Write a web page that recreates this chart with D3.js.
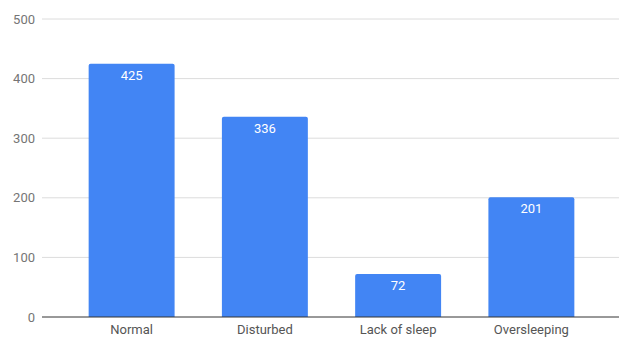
<!DOCTYPE html>
<html>
<head>
<meta charset="utf-8"/>
<script src="https://d3js.org/d3.v7.min.js"></script>
<style>
  body { margin: 0; background: #fff; }
  svg { display: block; font-family: Roboto, "Noto Sans", sans-serif; }
</style>
</head>
<body>
<div id="chart"></div>
<script>
// sleep categories and counts
var categories = ["Normal", "Disturbed", "Lack of sleep", "Oversleeping"];
var counts = [425, 336, 72, 201];
var yTicks = [0, 100, 200, 300, 400, 500];

var width = 619, height = 337;

var svg = d3.select("#chart").append("svg")
    .attr("width", width)
    .attr("height", height);

var x = d3.scaleBand()
    .domain(categories)
    .range([65, 598])
    .paddingInner(0.355)
    .paddingOuter(0.1775);

var y = d3.scaleLinear()
    .domain([0, 500])
    .range([317, 19]);

// gridlines + y labels
var grid = svg.append("g");
grid.selectAll("line")
    .data(yTicks.filter(function(d){ return d > 0; }))
    .enter().append("line")
    .attr("x1", 42).attr("x2", width)
    .attr("y1", function(d){ return y(d); })
    .attr("y2", function(d){ return y(d); })
    .attr("stroke", "#dcdcdc")
    .attr("stroke-width", 1);

grid.selectAll("text")
    .data(yTicks)
    .enter().append("text")
    .attr("x", 35)
    .attr("y", function(d){ return y(d); })
    .attr("dy", "0.35em")
    .attr("text-anchor", "end")
    .attr("font-size", 13)
    .attr("fill", "#757575")
    .text(function(d){ return d; });

// bars
var bars = svg.append("g");
bars.selectAll("path")
    .data(categories)
    .enter().append("path")
    .attr("fill", "#4285f4")
    .attr("d", function(d, i){
        var x0 = x(d), w = x.bandwidth(), y0 = y(counts[i]), y1 = y(0), r = 2;
        return "M" + x0 + "," + y1 +
               "V" + (y0 + r) +
               "Q" + x0 + "," + y0 + " " + (x0 + r) + "," + y0 +
               "H" + (x0 + w - r) +
               "Q" + (x0 + w) + "," + y0 + " " + (x0 + w) + "," + (y0 + r) +
               "V" + y1 + "Z";
    });

bars.selectAll("text")
    .data(categories)
    .enter().append("text")
    .attr("x", function(d){ return x(d) + x.bandwidth() / 2; })
    .attr("y", function(d, i){ return y(counts[i]) + 16; })
    .attr("text-anchor", "middle")
    .attr("font-size", 13)
    .attr("fill", "#fff")
    .text(function(d, i){ return counts[i]; });

// baseline
svg.append("line")
    .attr("x1", 42).attr("x2", width)
    .attr("y1", y(0)).attr("y2", y(0))
    .attr("stroke", "#333")
    .attr("stroke-width", 1);

// x labels
svg.append("g").selectAll("text")
    .data(categories)
    .enter().append("text")
    .attr("x", function(d){ return x(d) + x.bandwidth() / 2; })
    .attr("y", 334)
    .attr("text-anchor", "middle")
    .attr("font-size", 13)
    .attr("fill", "#555")
    .text(function(d){ return d; });
</script>
</body>
</html>
